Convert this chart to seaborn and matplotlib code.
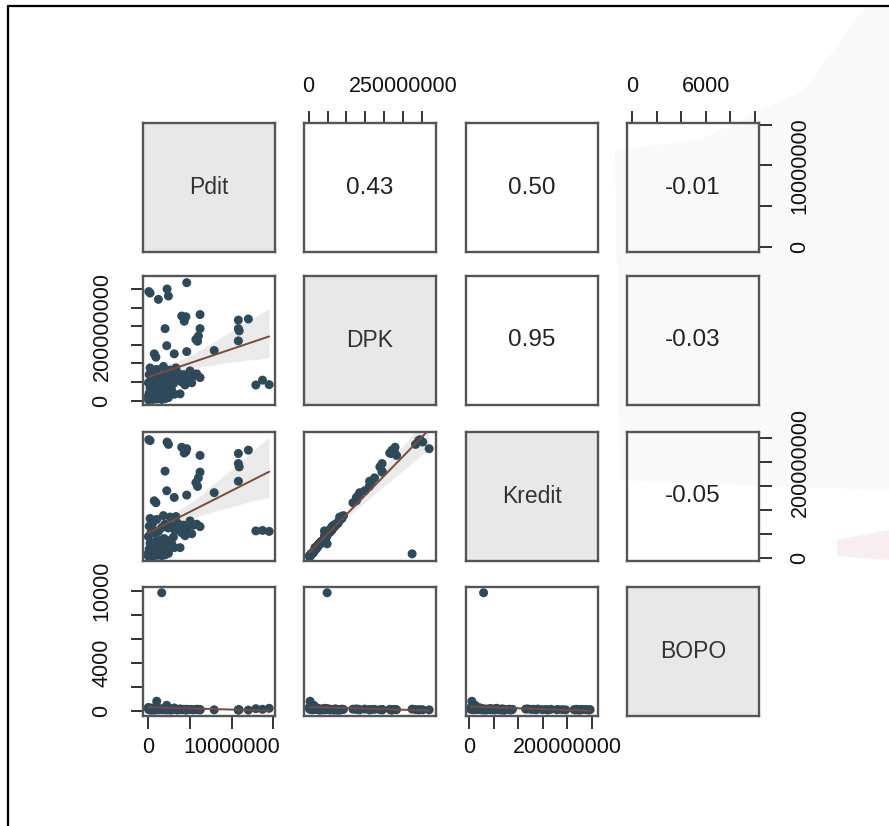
import matplotlib
matplotlib.use('Agg')
import matplotlib.pyplot as plt
from matplotlib.lines import Line2D
from matplotlib.patches import Polygon
from matplotlib.collections import PolyCollection
import seaborn as sns
import numpy as np
import pandas as pd

sns.set_theme(style='white')
plt.rcParams['font.family'] = ['Liberation Sans', 'DejaVu Sans']

# Pdit, DPK, Kredit in millions, BOPO raw
pdit = [0.05, 0.2, 2.24, 2.4, 1.2, 4.6, 4.0, 4.5, 4.3, 6.2, 10.8, 12.0, 10.8, 10.9,
        2.0, 6.2, 6.0, 5.7, 5.9, 10.8, 7.9, 4.6, 2.2, 0.7, 3.1, 0.9, 12.9, 13.7,
        14.5, 3.1, 3.8,
        0.0, 0.1, 0.2, 0.0, 0.3, 0.5, 0.6, 0.8, 1.0, 1.2, 1.4, 1.6, 1.8, 2.0,
        2.2, 2.4, 0.1, 0.4, 0.7, 0.2, 0.9, 1.1, 1.3, 1.5, 1.7, 1.9, 2.1, 2.3,
        2.6, 2.8, 3.0, 0.0, 0.3, 0.6, 0.1, 0.5, 0.2, 0.8, 1.2, 1.6, 2.0, 2.4,
        2.8, 3.2, 3.5, 3.8, 4.2, 4.6, 5.0, 5.4, 5.8, 6.2, 1.0, 1.8, 2.6, 3.3,
        4.0, 4.4, 5.2, 1.6]
dpk = [294, 290, 301, 282, 273, 318, 228, 226, 214, 232, 217, 220, 194, 188,
       194, 194, 174, 165, 160, 161, 135, 132, 148, 126, 126, 117, 42, 55,
       43, 17, 18,
       2, 5, 8, 12, 15, 3, 6, 10, 4, 7, 12, 3, 9, 5,
       14, 8, 20, 24, 28, 33, 36, 22, 30, 40, 26, 44, 33, 20,
       38, 27, 45, 48, 55, 62, 70, 78, 88, 50, 58, 66, 74, 60,
       68, 55, 75, 62, 70, 58, 80, 66, 72, 62, 84, 92, 82, 88,
       50, 42, 48, 49]
kredit = [247, 245, 242, 237, 8, 228, 231, 222, 219, 214, 218, 225, 197, 190,
          181, 179, 167, 157, 149, 160, 136, 131, 140, 119, 126, 115, 56, 57,
          55, 21, 21,
          3, 4, 7, 10, 14, 2, 5, 9, 5, 6, 11, 4, 8, 6,
          12, 9, 18, 22, 27, 30, 34, 24, 31, 37, 27, 40, 34, 22,
          36, 29, 43, 44, 52, 58, 66, 72, 82, 51, 55, 63, 70, 62,
          66, 57, 72, 64, 68, 60, 77, 68, 70, 65, 80, 88, 85, 86,
          52, 46, 50, 29]
bopo = [120, 95, 110, 130, 160, 105, 140, 125, 150, 115, 90, 85, 100, 120,
        135, 110, 145, 130, 120, 95, 105, 150, 170, 180, 140, 160, 200, 150,
        230, 260, 180,
        300, 180, 150, 220, 130, 160, 240, 110, 820, 140, 170, 190, 120, 210,
        480, 160, 130, 250, 90, 170, 140, 200, 110, 160, 130, 180, 95, 150,
        120, 170, 140, 210, 100, 130, 180, 90, 160, 140, 120, 110, 150, 130,
        100, 160, 90, 140, 120, 110, 130, 100, 150, 120, 110, 140, 90, 130,
        120, 100, 140, 9850]

variables = ['Pdit', 'DPK', 'Kredit', 'BOPO']
corr_labels = {(0, 1): '0.43', (0, 2): '0.50', (0, 3): '-0.01',
               (1, 2): '0.95', (1, 3): '-0.03', (2, 3): '-0.05'}

df = pd.DataFrame({'Pdit': np.array(pdit) * 1e6, 'DPK': np.array(dpk) * 1e6,
                   'Kredit': np.array(kredit) * 1e6, 'BOPO': bopo})

limits = {'Pdit': (-0.65e6, 15.2e6), 'DPK': (-12e6, 336e6),
          'Kredit': (-7e6, 263e6), 'BOPO': (-410, 10330)}
ticks = {'Pdit': [0, 5e6, 10e6, 15e6],
         'DPK': [0, 50e6, 100e6, 150e6, 200e6, 250e6, 300e6],
         'Kredit': [0, 50e6, 100e6, 150e6, 200e6, 250e6],
         'BOPO': [0, 2000, 4000, 6000, 8000, 10000]}
# labels R kept (others dropped for overlap)
shown = {('bottom', 'Pdit'): {0: '0', 10e6: '10000000'},
         ('top', 'DPK'): {0: '0', 250e6: '250000000'},
         ('bottom', 'Kredit'): {0: '0', 200e6: '200000000'},
         ('top', 'BOPO'): {0: '0', 6000: '6000'},
         ('right', 'Pdit'): {0: '0', 10e6: '10000000'},
         ('left', 'DPK'): {0: '0', 200e6: '200000000'},
         ('right', 'Kredit'): {0: '0', 200e6: '200000000'},
         ('left', 'BOPO'): {0: '0', 4000: '4000', 10000: '10000'}}

W, H = 889, 826
fig = plt.figure(figsize=(W / 100, H / 100), dpi=100)
fig.patch.set_facecolor('white')

# faint watermark of the screenshot
fig.add_artist(Polygon([(866 / W, 1 - 6 / H), (1, 1 - 6 / H), (1, 1 - 490 / H),
                        (740 / W, 1 - 485 / H), (620 / W, 1 - 480 / H),
                        (615 / W, 1 - 150 / H), (700 / W, 1 - 140 / H),
                        (804 / W, 1 - 90 / H)],
                       closed=True, transform=fig.transFigure,
                       facecolor='#f9f9f9', edgecolor='none', zorder=-5))
fig.add_artist(Polygon([(837 / W, 1 - 540 / H), (1, 1 - 530 / H), (1, 1 - 560 / H),
                        (837 / W, 1 - 556 / H)], closed=True,
                       transform=fig.transFigure, facecolor='#f8eef0',
                       edgecolor='none', zorder=-5))

col_left = [143, 304, 466, 627]
row_top = [123, 276, 432, 587]
pw, ph = 132, 129

pt_color = '#2e4a5a'
line_color = '#7a4b3a'

for i, vy in enumerate(variables):
    for j, vx in enumerate(variables):
        ax = fig.add_axes([col_left[j] / W, 1 - (row_top[i] + ph) / H, pw / W, ph / H])
        if i > j:
            sns.regplot(x=df[vx], y=df[vy], ax=ax, ci=95, seed=3,
                        scatter_kws=dict(s=42, color=pt_color, edgecolor='none', alpha=1),
                        line_kws=dict(color=line_color, lw=1.4))
            for c in ax.collections:
                if isinstance(c, PolyCollection):
                    c.set_facecolor('#c4c4c4')
                    c.set_alpha(0.35)
                    c.set_zorder(0.8)
            ax.set_facecolor('none')
        elif i == j:
            ax.set_facecolor('#e8e8e8')
            ax.text(0.5, 0.5, vx, transform=ax.transAxes, ha='center', va='center',
                    fontsize=16.5, color='#333333')
        else:
            ax.set_facecolor('none')
            ax.text(0.5, 0.5, corr_labels[(i, j)], transform=ax.transAxes,
                    ha='center', va='center', fontsize=17.5, color='#222222')
        ax.set_xlim(limits[vx])
        ax.set_ylim(limits[vy])
        ax.set_xlabel('')
        ax.set_ylabel('')
        for s in ax.spines.values():
            s.set_visible(True)
            s.set_color('#555555')
            s.set_linewidth(1.7)
        ax.tick_params(axis='both', which='both', bottom=False, top=False,
                       left=False, right=False, labelbottom=False, labeltop=False,
                       labelleft=False, labelright=False)

        side_x = None
        if i == 0 and j % 2 == 1:
            side_x = 'top'
        if i == 3 and j % 2 == 0:
            side_x = 'bottom'
        if side_x:
            lab = shown[(side_x, vx)]
            ax.set_xticks(ticks[vx])
            ax.set_xticklabels([lab.get(t, '') for t in ticks[vx]])
            ax.tick_params(axis='x', direction='out', length=9, width=1.4,
                           color='#333333', labelsize=15.5, labelcolor='#111111',
                           pad=10 if side_x == 'top' else 6,
                           **{side_x: True, 'label' + side_x: True})
        side_y = None
        if j == 0 and i % 2 == 1:
            side_y = 'left'
        if j == 3 and i % 2 == 0:
            side_y = 'right'
        if side_y:
            lab = shown[(side_y, vy)]
            ax.set_yticks(ticks[vy])
            ax.set_yticklabels([lab.get(t, '') for t in ticks[vy]], va='center')
            ax.tick_params(axis='y', direction='out', length=9, width=1.4,
                           color='#333333', labelsize=15.5, labelcolor='#111111',
                           labelrotation=90, pad=13,
                           **{side_y: True, 'label' + side_y: True})
        ax.grid(False)

# screenshot frame (top and left edges)
fig.add_artist(Line2D([8 / W, 1], [1 - 6 / H, 1 - 6 / H], transform=fig.transFigure,
                      color='black', lw=1.6))
fig.add_artist(Line2D([8 / W, 8 / W], [1 - 6 / H, 0], transform=fig.transFigure,
                      color='black', lw=1.6))

fig.savefig('out.png', dpi=100)
